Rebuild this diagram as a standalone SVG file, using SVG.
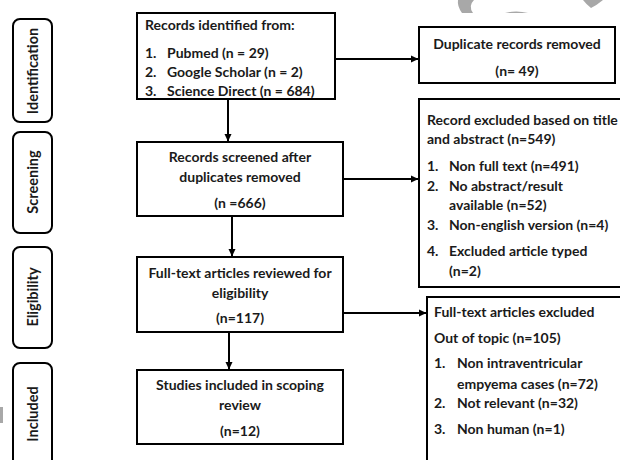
<svg xmlns="http://www.w3.org/2000/svg" width="620" height="460" viewBox="0 0 620 460">
<defs>
<style>
.box{fill:#fff;stroke:#000;stroke-width:2}
.side{fill:#fff;stroke:#000;stroke-width:2}
.t{font-family:Lato,"Liberation Sans",sans-serif;font-weight:bold;font-size:14px;fill:#1a1a1a}
.c{text-anchor:middle}
.s{font-family:Lato,"Liberation Sans",sans-serif;font-weight:bold;font-size:14.5px;fill:#1a1a1a;text-anchor:middle}
.ln{stroke:#000;stroke-width:2;fill:none}
</style>
<marker id="ah" markerWidth="8" markerHeight="8" refX="7" refY="4" orient="auto" markerUnits="userSpaceOnUse">
<path d="M0,0.5 L7.5,4 L0,7.5 Z" fill="#000"/>
</marker>
</defs>
<rect width="620" height="460" fill="#fff"/>
<g id="watermark" fill="#a8a8a8">
<path d="M458,0 L474,0 Q468,6 473,13 L462,13 Q457,6 458,0 Z"/>
<path d="M505,13 Q516,10 528,13 Z"/>
<path d="M583,0 L603,0 Q597,5 591,8 Q586,4 583,0 Z"/>
<rect x="0" y="407" width="3" height="16"/>
</g>
<g id="side-identification"><rect class="side" x="13" y="19" width="39" height="103" rx="7"/><text class="s" transform="translate(38,71) rotate(-90)">Identification</text></g>
<g id="side-screening"><rect class="side" x="13" y="132" width="39" height="101" rx="7"/><text class="s" transform="translate(38,182) rotate(-90)">Screening</text></g>
<g id="side-eligibility"><rect class="side" x="13" y="247" width="39" height="101" rx="7"/><text class="s" transform="translate(38,297) rotate(-90)">Eligibility</text></g>
<g id="side-included"><rect class="side" x="13" y="363" width="39" height="110" rx="7"/><text class="s" transform="translate(38,414) rotate(-90)">Included</text></g>
<g id="identified"><rect class="box" x="137" y="13" width="198" height="86"/>
<text class="t" x="145" y="30">Records identified from:</text>
<text class="t" x="145" y="58">1.</text><text class="t" x="167" y="58">Pubmed (n = 29)</text>
<text class="t" x="145" y="77">2.</text><text class="t" x="167" y="77">Google Scholar (n = 2)</text>
<text class="t" x="145" y="96">3.</text><text class="t" x="167" y="96">Science Direct (n = 684)</text></g>
<g id="duplicates"><rect class="box" x="419" y="27" width="196" height="56"/>
<text class="t c" x="517" y="49">Duplicate records removed</text>
<text class="t c" x="517" y="76">(n= 49)</text></g>
<g id="screened"><rect class="box" x="137" y="142" width="206" height="74"/>
<text class="t c" x="240" y="162">Records screened after</text>
<text class="t c" x="240" y="182">duplicates removed</text>
<text class="t c" x="240" y="208">(n =666)</text></g>
<g id="excluded-title"><rect class="box" x="419" y="99" width="210" height="188"/>
<text class="t" x="427" y="125">Record excluded based on title</text>
<text class="t" x="427" y="144">and abstract (n=549)</text>
<text class="t" x="427" y="171">1.</text><text class="t" x="449" y="171">Non full text (n=491)</text>
<text class="t" x="427" y="191">2.</text><text class="t" x="449" y="191">No abstract/result</text>
<text class="t" x="449" y="210">available (n=52)</text>
<text class="t" x="427" y="230">3.</text><text class="t" x="449" y="230">Non-english version (n=4)</text>
<text class="t" x="427" y="256">4.</text><text class="t" x="449" y="256">Excluded article typed</text>
<text class="t" x="449" y="276">(n=2)</text></g>
<g id="fulltext"><rect class="box" x="137" y="257" width="206" height="75"/>
<text class="t c" x="240" y="278">Full-text articles reviewed for</text>
<text class="t c" x="240" y="298">eligibility</text>
<text class="t c" x="240" y="323">(n=117)</text></g>
<g id="excluded-fulltext"><rect class="box" x="427" y="297" width="210" height="180"/>
<text class="t" x="434" y="317">Full-text articles excluded</text>
<text class="t" x="434" y="343">Out of topic (n=105)</text>
<text class="t" x="434" y="368">1.</text><text class="t" x="457" y="368">Non intraventricular</text>
<text class="t" x="457" y="389">empyema cases (n=72)</text>
<text class="t" x="434" y="408">2.</text><text class="t" x="457" y="408">Not relevant (n=32)</text>
<text class="t" x="434" y="434">3.</text><text class="t" x="457" y="434">Non human (n=1)</text></g>
<g id="included"><rect class="box" x="137" y="370" width="206" height="74"/>
<text class="t c" x="240" y="390">Studies included in scoping</text>
<text class="t c" x="240" y="410">review</text>
<text class="t c" x="240" y="436">(n=12)</text></g>
<g id="connectors">
<line class="ln" x1="228" y1="99" x2="228" y2="141" marker-end="url(#ah)"/>
<line class="ln" x1="335" y1="59" x2="418" y2="59" marker-end="url(#ah)"/>
<line class="ln" x1="343" y1="179" x2="418" y2="179" marker-end="url(#ah)"/>
<line class="ln" x1="232" y1="216" x2="232" y2="256" marker-end="url(#ah)"/>
<line class="ln" x1="343" y1="313" x2="426" y2="313" marker-end="url(#ah)"/>
<line class="ln" x1="229" y1="332" x2="229" y2="369" marker-end="url(#ah)"/>
</g>
</svg>
